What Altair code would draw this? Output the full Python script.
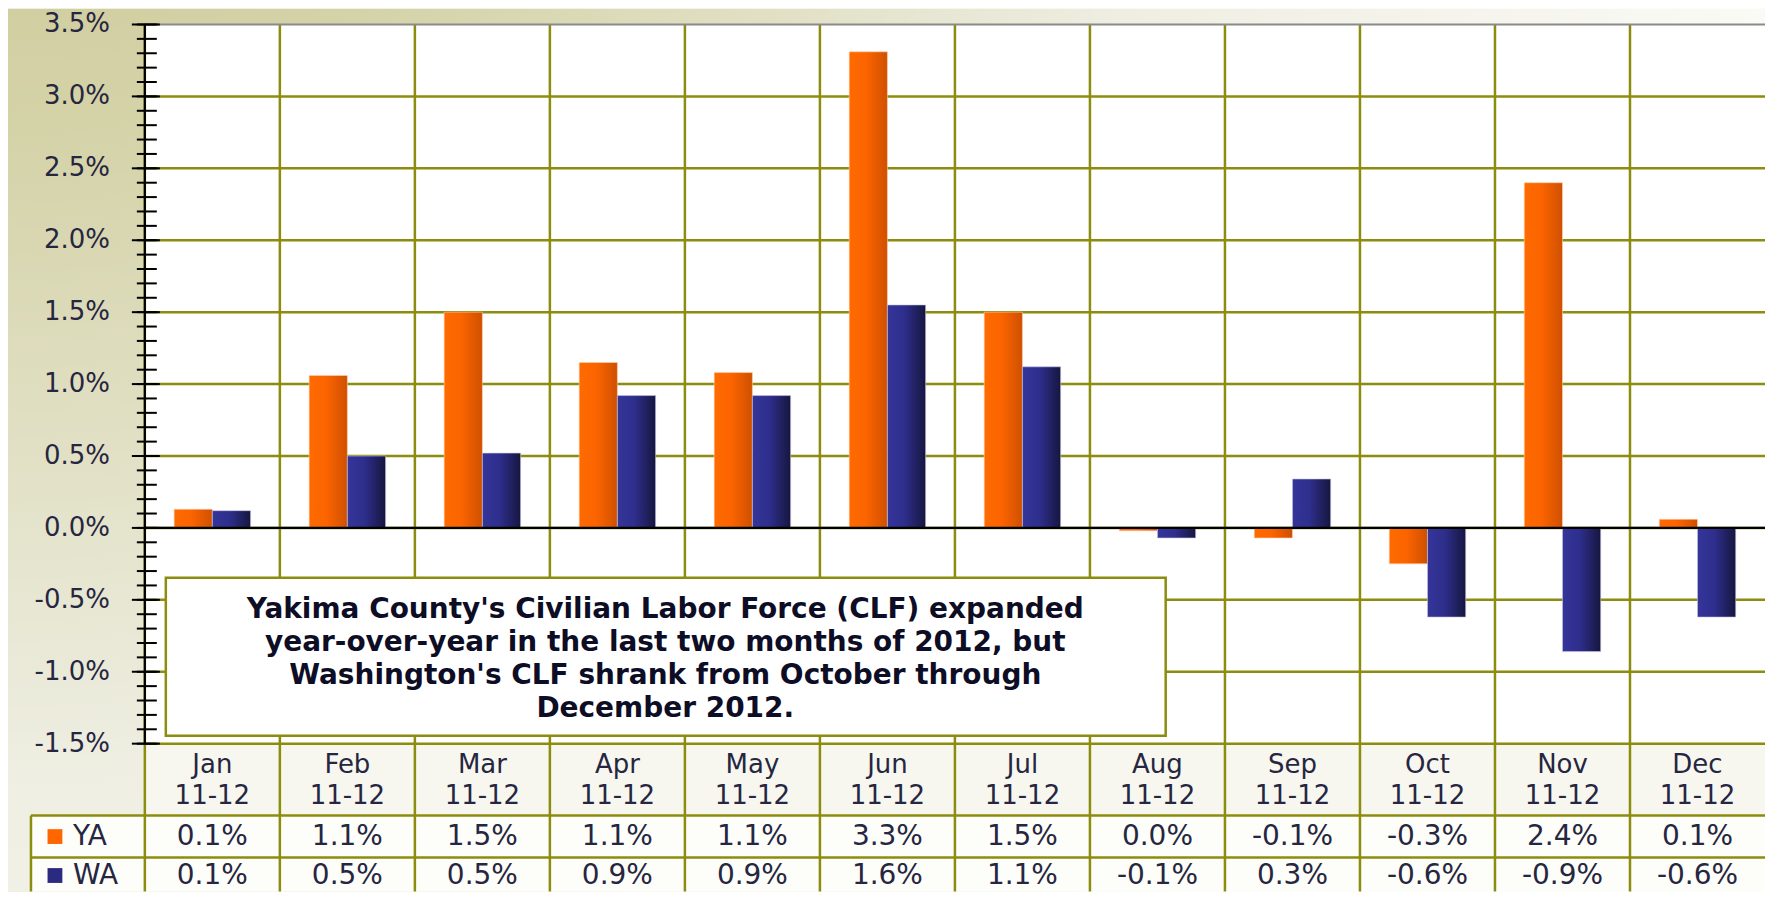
import altair as alt
import pandas as pd

# ---------------- data ----------------
months = ["Jan", "Feb", "Mar", "Apr", "May", "Jun", "Jul", "Aug", "Sep", "Oct", "Nov", "Dec"]
period = "11-12"
series = ["YA", "WA"]
ya_values = [0.13, 1.06, 1.50, 1.15, 1.08, 3.31, 1.50, -0.02, -0.07, -0.25, 2.40, 0.06]
wa_values = [0.12, 0.50, 0.52, 0.92, 0.92, 1.55, 1.12, -0.07, 0.34, -0.62, -0.86, -0.62]
ya_labels = ["0.1%", "1.1%", "1.5%", "1.1%", "1.1%", "3.3%", "1.5%", "0.0%", "-0.1%", "-0.3%", "2.4%", "0.1%"]
wa_labels = ["0.1%", "0.5%", "0.5%", "0.9%", "0.9%", "1.6%", "1.1%", "-0.1%", "0.3%", "-0.6%", "-0.9%", "-0.6%"]
y_major = [-1.5, -1.0, -0.5, 0.0, 0.5, 1.0, 1.5, 2.0, 2.5, 3.0, 3.5]
y_major_labels = ["-1.5%", "-1.0%", "-0.5%", "0.0%", "0.5%", "1.0%", "1.5%", "2.0%", "2.5%", "3.0%", "3.5%"]
y_minor = [round(-1.5 + 0.1 * i, 1) for i in range(51)]
note_lines = [
    "Yakima County's Civilian Labor Force (CLF) expanded",
    "year-over-year in the last two months of 2012, but",
    "Washington's CLF shrank from October through",
    "December 2012.",
]

# ---------------- layout / style ----------------
TOPPAD = 16
W, H = 1622, 720
HEAD_B, ROW_B, TAB_B = H + 72, H + 114, H + 148
LEFT = -114
FONT = "DejaVu Sans"
OLIVE = "#8c8c0e"
TXT = "#262640"

wide = pd.DataFrame({"month": months, "ya": ya_values, "wa": wa_values,
                     "ya_label": ya_labels, "wa_label": wa_labels})
bars = pd.DataFrame({
    "month": months * 2,
    "series": [series[0]] * len(months) + [series[1]] * len(months),
    "value": ya_values + wa_values,
})
major_df = pd.DataFrame({"v": y_major, "lab": y_major_labels})
minor_df = pd.DataFrame({"v": y_minor})
one = pd.DataFrame({"a": [0]})

yscale = alt.Scale(domain=[-1.5, 3.5], nice=False)
xscale = alt.Scale(domain=months, paddingInner=0, paddingOuter=0)
xoff = alt.XOffset("series:N", scale=alt.Scale(domain=series, paddingInner=0, paddingOuter=0.766))


def xm(**kw):
    return alt.X("month:N", sort=months, scale=xscale, axis=None, **kw)


def yv(field="v:Q"):
    return alt.Y(field, scale=yscale, axis=None)


grad_ya = alt.LinearGradient(gradient="linear", x1=0, x2=1, y1=0, y2=0, stops=[
    alt.GradientStop(color="#ff6a00", offset=0), alt.GradientStop(color="#fb6400", offset=0.45),
    alt.GradientStop(color="#cf5000", offset=1)])
grad_wa = alt.LinearGradient(gradient="linear", x1=0, x2=1, y1=0, y2=0, stops=[
    alt.GradientStop(color="#35359a", offset=0), alt.GradientStop(color="#2e2e8c", offset=0.45),
    alt.GradientStop(color="#16163f", offset=1)])
bg_grad = alt.RadialGradient(gradient="radial", x1=0, y1=0, r1=0, x2=0, y2=0, r2=1.05, stops=[
    alt.GradientStop(color="#c7c590", offset=0), alt.GradientStop(color="#d4d2a7", offset=0.3),
    alt.GradientStop(color="#eeeee2", offset=0.65), alt.GradientStop(color="#fbfbf7", offset=1)])

bg = alt.Chart(one).mark_rect(fill=bg_grad).encode(
    x=alt.value(-137), x2=alt.value(W), y=alt.value(-TOPPAD), y2=alt.value(TAB_B))
plot_bg = alt.Chart(one).mark_rect(fill="white").encode(
    x=alt.value(0), x2=alt.value(W), y=alt.value(0), y2=alt.value(H))
head_fill = alt.Chart(one).mark_rect(fill="#f7f7f0").encode(
    x=alt.value(0), x2=alt.value(W), y=alt.value(H), y2=alt.value(HEAD_B))
rows_fill = alt.Chart(one).mark_rect(fill="#fdfdfa").encode(
    x=alt.value(LEFT), x2=alt.value(W), y=alt.value(HEAD_B), y2=alt.value(TAB_B))

hgrid = alt.Chart(major_df).transform_filter(alt.datum.v < 3.5).mark_rule(
    color=OLIVE, strokeWidth=2.5).encode(y=yv())
vgrid = alt.Chart(wide).mark_rule(color=OLIVE, strokeWidth=2.5).encode(
    x=xm(bandPosition=0), y=alt.value(0), y2=alt.value(TAB_B))
tline1 = alt.Chart(one).mark_rule(color=OLIVE, strokeWidth=2.5).encode(
    x=alt.value(LEFT), x2=alt.value(W), y=alt.value(HEAD_B))
tline2 = alt.Chart(one).mark_rule(color=OLIVE, strokeWidth=2.5).encode(
    x=alt.value(LEFT), x2=alt.value(W), y=alt.value(ROW_B))
tline3 = alt.Chart(one).mark_rule(color=OLIVE, strokeWidth=2.5).encode(
    x=alt.value(LEFT), y=alt.value(HEAD_B), y2=alt.value(TAB_B))

bar_ya = alt.Chart(bars).transform_filter(alt.datum.series == "YA").mark_bar(
    fill=grad_ya, stroke="#ffd2b0", strokeWidth=0.6).encode(
    x=alt.X("month:N", sort=months, scale=xscale, axis=alt.Axis(
        title=None, labels=False, ticks=False, grid=False, domain=False)),
    xOffset=xoff,
    y=alt.Y("value:Q", scale=yscale, axis=alt.Axis(
        title=None, labels=False, ticks=False, grid=False, domain=True,
        domainColor="black", domainWidth=2.2, zindex=1)),
)
bar_wa = alt.Chart(bars).transform_filter(alt.datum.series == "WA").mark_bar(
    fill=grad_wa, stroke="#c8c8e6", strokeWidth=0.6).encode(
    x=xm(), xOffset=xoff, y=yv("value:Q"))

zero = alt.Chart(one).mark_rule(color="black", strokeWidth=2.2).encode(y=alt.datum(0))
top = alt.Chart(one).mark_rule(color="#8a8a8a", strokeWidth=2).encode(y=alt.datum(3.5))
y_domain = alt.Chart(one).mark_rule(color="black", strokeWidth=2.2).encode(
    x=alt.value(0), y=alt.value(0), y2=alt.value(H))
maj_ticks = alt.Chart(major_df).mark_rule(color="black", strokeWidth=2).encode(
    y=yv(), x=alt.value(-13), x2=alt.value(15))
min_ticks = alt.Chart(minor_df).mark_rule(color="black", strokeWidth=2).encode(
    y=yv(), x=alt.value(-8), x2=alt.value(12))
y_labels = alt.Chart(major_df).mark_text(
    font=FONT, fontSize=26, color=TXT, align="right", baseline="middle").encode(
    y=yv(), x=alt.value(-35), text="lab:N")

x_month = alt.Chart(wide).mark_text(
    font=FONT, fontSize=26, color=TXT, align="center", baseline="alphabetic").encode(
    x=xm(), y=alt.value(H + 29), text="month:N")
x_period = alt.Chart(wide).mark_text(
    text=period, font=FONT, fontSize=26, color=TXT, align="center", baseline="alphabetic").encode(
    x=xm(), y=alt.value(H + 60))

note_box = alt.Chart(one).mark_rect(fill="white", stroke=OLIVE, strokeWidth=2.5).encode(
    x=alt.value(21), x2=alt.value(1022), y=alt.value(554), y2=alt.value(712))
note_layers = [
    alt.Chart(one).mark_text(
        text=line, font=FONT, fontSize=28, fontWeight="bold", color="#0d0d26",
        align="center", baseline="middle").encode(x=alt.value(521), y=alt.value(586 + 33 * i))
    for i, line in enumerate(note_lines)
]

ya_txt = alt.Chart(wide).mark_text(font=FONT, fontSize=28, color=TXT, baseline="middle").encode(
    x=xm(), y=alt.value(H + 93), text="ya_label:N")
wa_txt = alt.Chart(wide).mark_text(font=FONT, fontSize=28, color=TXT, baseline="middle").encode(
    x=xm(), y=alt.value(H + 132), text="wa_label:N")

leg_ya_sq = alt.Chart(one).mark_square(size=220, color="#ff6600", opacity=1, filled=True).encode(
    x=alt.value(-90), y=alt.value(H + 93))
leg_wa_sq = alt.Chart(one).mark_square(size=220, color="#2a2a80", opacity=1, filled=True).encode(
    x=alt.value(-90), y=alt.value(H + 132))
leg_ya_t = alt.Chart(one).mark_text(text=series[0], font=FONT, fontSize=28, color=TXT,
                                    align="left", baseline="middle").encode(
    x=alt.value(-72), y=alt.value(H + 93))
leg_wa_t = alt.Chart(one).mark_text(text=series[1], font=FONT, fontSize=28, color=TXT,
                                    align="left", baseline="middle").encode(
    x=alt.value(-72), y=alt.value(H + 132))

chart = alt.layer(
    bg, plot_bg, head_fill, rows_fill, hgrid, vgrid, tline1, tline2, tline3,
    bar_ya, bar_wa, zero, top, y_domain, maj_ticks, min_ticks, y_labels, x_month, x_period,
    note_box, *note_layers, ya_txt, wa_txt, leg_ya_sq, leg_wa_sq, leg_ya_t, leg_wa_t,
).properties(
    width=W, height=H, padding=0,
    autosize=alt.AutoSizeParams(type="pad"),
).configure_view(stroke=None)

chart.save("out.html", embed_options={"renderer": "svg", "actions": False})
